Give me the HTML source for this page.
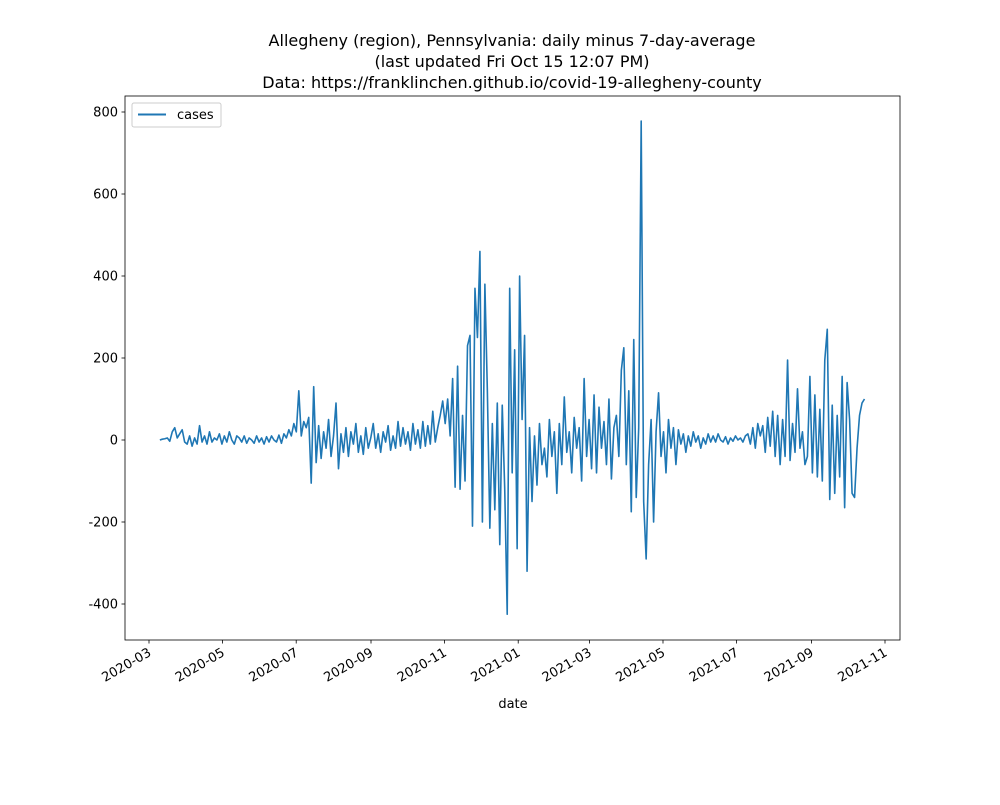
<!DOCTYPE html>
<html><head><meta charset="utf-8"><style>
body{margin:0;background:#fff;font-family:"Liberation Sans","DejaVu Sans",sans-serif;}
svg text{font-family:"DejaVu Sans","Liberation Sans",sans-serif;}
</style></head><body>
<svg id="chart" width="1000" height="800" xmlns="http://www.w3.org/2000/svg">
<rect width="1000" height="800" fill="#fff"/>
<g font-size="16" text-anchor="middle" fill="#000">
<text x="512" y="46">Allegheny (region), Pennsylvania: daily minus 7-day-average</text>
<text x="512" y="67">(last updated Fri Oct 15 12:07 PM)</text>
<text x="512" y="88">Data: https://franklinchen.github.io/covid-19-allegheny-county</text>
</g>
<g id="axes"></g>
<text x="513" y="708" font-size="13" text-anchor="middle">date</text>
<g>
<rect x="132" y="103" width="89" height="24" fill="#fff" stroke="#ccc" rx="2"/>
<line x1="138" y1="114.5" x2="166" y2="114.5" stroke="#1f77b4" stroke-width="2"/>
<text x="177" y="119" font-size="13">cases</text>
</g>
</svg>
<script>
const startDate = "2020-03-10";
const endDate = "2021-10-15";
const values = [0,2,3,5,-3,20,30,5,15,25,-5,
-10,10,-15,5,-10,35,-5,10,-10,20,-5,5,0,15,-10,
10,-5,20,0,-10,10,5,-5,10,-8,5,0,-8,10,-5,
5,-10,8,-5,10,0,-5,12,-8,15,5,25,10,40,20,
120,10,45,30,55,-105,130,-55,35,-45,20,-20,50,-40,10,
90,-70,15,-30,30,-40,20,-10,40,-30,10,-35,30,-20,5,
40,-20,15,-30,20,-5,35,-25,10,-20,45,-15,30,-10,20,
-25,40,-10,25,-20,45,-15,35,-10,70,-5,30,60,95,40,
100,10,150,-115,180,-120,60,-100,230,255,-210,370,250,460,-200,
380,120,-215,40,-170,90,-255,85,-120,-425,370,-80,220,-265,400,
50,255,-320,30,-150,10,-110,40,-60,-20,-90,50,-40,20,-130,
40,-60,105,-30,20,-80,55,-20,30,-100,150,-40,50,-70,
110,-80,80,-20,45,-60,100,-95,30,60,-40,170,225,-60,120,
-175,245,-140,30,778,-150,-290,-60,50,-200,20,115,-40,20,-80,
50,-20,30,-60,25,-10,15,-30,10,-15,20,-5,10,-20,5,
-10,15,-5,10,-5,15,0,-5,8,-10,5,-3,10,0,5,
-5,10,15,-10,30,-20,40,10,35,-30,55,-15,70,-40,60,
-60,50,-40,195,-50,40,-30,125,-20,20,-60,-40,155,-80,110,
-90,75,-100,195,270,-145,85,-130,60,-90,155,-165,140,50,-130,
-140,-20,60,90,100];
const yTicks = [-400,-200,0,200,400,600,800];
const xTickLabels = ["2020-03","2020-05","2020-07","2020-09","2020-11","2021-01","2021-03","2021-05","2021-07","2021-09","2021-11"];

const NS="http://www.w3.org/2000/svg";
const L=125,R=900,T=96,B=640;
const day0=Date.UTC(2020,2,1);
const pxPerDay=736/610;
function xs(ms){return 149+(ms-day0)/86400000*pxPerDay;}
function ys(v){return 440-v*0.41;}
function mk(tag,attrs,parent){const e=document.createElementNS(NS,tag);for(const k in attrs)e.setAttribute(k,attrs[k]);parent.appendChild(e);return e;}
const g=document.getElementById('axes');
const s0=Date.parse(startDate+"T00:00:00Z");
const s1=Date.parse(endDate+"T00:00:00Z");
const stepMs=(s1-s0)/(values.length-1);
let d="";
values.forEach((v,i)=>{const x=xs(s0+i*stepMs);d+=(i?"L":"M")+x.toFixed(2)+","+ys(v).toFixed(2);});
const line=mk('path',{d:d,fill:'none',stroke:'#1f77b4','stroke-width':1.6,'stroke-linejoin':'round'},g);


const frame=mk('rect',{x:L,y:T,width:R-L,height:B-T,fill:'none',stroke:'#000','stroke-width':0.8},g);


yTicks.forEach(v=>{const y=ys(v);
mk('line',{x1:L-3.5,x2:L,y1:y,y2:y,stroke:'#000','stroke-width':0.8},g);
const t=mk('text',{x:L-7,y:y+4.5,'font-size':13,'text-anchor':'end'},g);t.textContent=v;

});
xTickLabels.forEach(lbl=>{const p=lbl.split('-');const x=xs(Date.UTC(+p[0],+p[1]-1,1));
mk('line',{x1:x,x2:x,y1:B,y2:B+3.5,stroke:'#000','stroke-width':0.8},g);
const t=mk('text',{x:0,y:0,'font-size':13,'text-anchor':'end',transform:`translate(${x+3},${B+15}) rotate(-30)`},g);t.textContent=lbl;

});
</script>
</body></html>
